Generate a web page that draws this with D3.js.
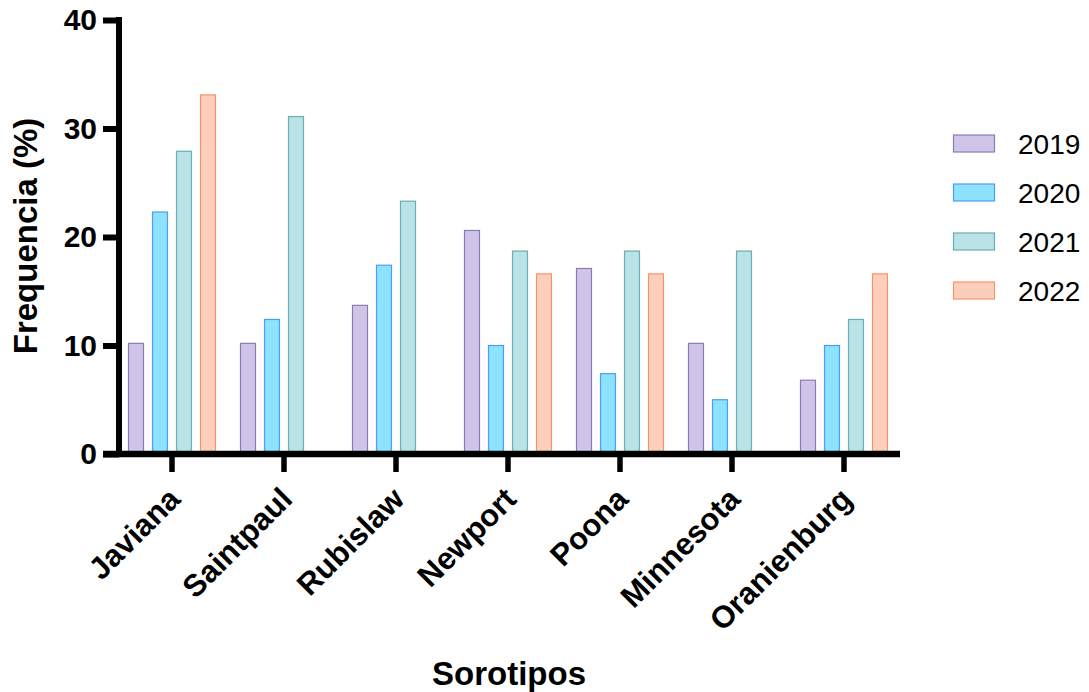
<!DOCTYPE html>
<html>
<head>
<meta charset="utf-8">
<script src="https://cdn.jsdelivr.net/npm/d3@7"></script>
<style>
  html, body { margin: 0; padding: 0; background: #fff; }
  svg { display: block; font-family: Arial, "Liberation Sans", sans-serif; }
</style>
</head>
<body>
<svg id="chart" width="1089" height="692"></svg>
<script>
// Serotype frequencies per year (%)
const categories = ["Javiana", "Saintpaul", "Rubislaw", "Newport", "Poona", "Minnesota", "Oranienburg"];
const years = ["2019", "2020", "2021", "2022"];
const values2019 = [10.2, 10.2, 13.7, 20.6, 17.1, 10.2, 6.8];
const values2020 = [22.3, 12.4, 17.4, 10.0, 7.4, 5.0, 10.0];
const values2021 = [27.9, 31.1, 23.3, 18.7, 18.7, 18.7, 12.4];
const values2022 = [33.1, null, null, 16.6, 16.6, null, 16.6];
const yTicks = [0, 10, 20, 30, 40];

const seriesValues = [values2019, values2020, values2021, values2022];
const fills = ["#d0c5e8", "#8de2fe", "#b9e3e6", "#fccfbd"];
const strokes = ["#8b7bb5", "#4b9ef5", "#68adb3", "#f5946a"];

const svg = d3.select("#chart");

const x = d3.scaleBand().domain(categories).range([116, 900]).paddingInner(0).paddingOuter(0);
const xSub = d3.scaleBand().domain(years).range([8, 104]).paddingInner(1 / 3).paddingOuter(1 / 6);
const y = d3.scaleLinear().domain([0, 40]).range([454, 20]);

// Bars
const rows = [];
categories.forEach((c, i) => {
  years.forEach((yr, j) => {
    const v = seriesValues[j][i];
    if (v != null) rows.push({ c, yr, j, v });
  });
});

svg.append("g").selectAll("rect")
  .data(rows)
  .join("rect")
  .attr("x", d => x(d.c) + xSub(d.yr) + 0.5)
  .attr("y", d => y(d.v))
  .attr("width", xSub.bandwidth() - 1)
  .attr("height", d => y(0) - y(d.v))
  .attr("fill", d => fills[d.j])
  .attr("stroke", d => strokes[d.j])
  .attr("stroke-width", 1.2);

// Y axis
const yAxis = svg.append("g")
  .attr("transform", "translate(119,0)")
  .call(d3.axisLeft(y).tickValues(yTicks).tickSize(16).tickSizeOuter(0).tickPadding(6));
yAxis.select(".domain").remove();
yAxis.selectAll(".tick line").attr("stroke", "#000").attr("stroke-width", 6);
yAxis.selectAll(".tick text")
  .attr("fill", "#000")
  .style("font-size", "30px")
  .style("font-weight", "bold")
  .style("font-family", "Arial, 'Liberation Sans', sans-serif");
svg.append("line")
  .attr("x1", 119).attr("x2", 119)
  .attr("y1", y(40) - 3).attr("y2", y(0))
  .attr("stroke", "#000").attr("stroke-width", 6);

// X axis
const xAxis = svg.append("g")
  .attr("transform", `translate(0,${y(0)})`)
  .call(d3.axisBottom(x).tickSize(18).tickSizeOuter(0).tickFormat(""));
xAxis.select(".domain").remove();
xAxis.selectAll(".tick line").attr("stroke", "#000").attr("stroke-width", 5.5);
svg.append("line")
  .attr("x1", 103).attr("x2", 900)
  .attr("y1", y(0)).attr("y2", y(0))
  .attr("stroke", "#000").attr("stroke-width", 6.5);

// Rotated category labels
svg.append("g").selectAll("text")
  .data(categories)
  .join("text")
  .attr("transform", d => `translate(${x(d) + x.bandwidth() / 2 + 10},501) rotate(-45)`)
  .attr("text-anchor", "end")
  .style("font-size", "31px")
  .style("font-weight", "bold")
  .attr("fill", "#000")
  .text(d => d);

// Axis titles
svg.append("text")
  .attr("transform", "translate(37,236) rotate(-90)")
  .attr("text-anchor", "middle")
  .style("font-size", "33px")
  .style("font-weight", "bold")
  .text("Frequencia (%)");

svg.append("text")
  .attr("x", 509).attr("y", 685)
  .attr("text-anchor", "middle")
  .style("font-size", "33px")
  .style("font-weight", "bold")
  .text("Sorotipos");

// Legend
const legend = svg.append("g").selectAll("g")
  .data(years)
  .join("g")
  .attr("transform", (d, i) => `translate(953,${143.5 + i * 49})`);
legend.append("rect")
  .attr("x", 0.5).attr("y", -8.5)
  .attr("width", 41).attr("height", 17)
  .attr("fill", (d, i) => fills[i])
  .attr("stroke", (d, i) => strokes[i])
  .attr("stroke-width", 1.2);
legend.append("text")
  .attr("x", 65).attr("y", 0)
  .attr("dy", "0.36em")
  .style("font-size", "28px")
  .attr("fill", "#000")
  .text(d => d);
</script>
</body>
</html>
